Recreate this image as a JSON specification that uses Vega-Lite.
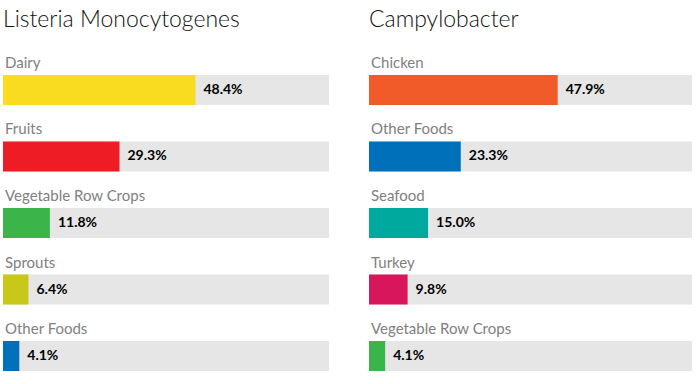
{
  "$schema": "https://vega.github.io/schema/vega-lite/v6.json",
  "padding": {"left": 3, "top": 8, "right": 0, "bottom": 0},
  "background": "white",
  "config": {
    "view": {"stroke": null},
    "concat": {"spacing": 40},
    "font": "Lato",
    "title": {"font": "Lato", "fontSize": 23, "fontWeight": 300, "color": "#111111", "anchor": "start", "frame": "group"}
  },
  "datasets": {
    "rows": [
      {"panel": "Listeria Monocytogenes", "category": "Dairy", "value": 48.4, "label": "48.4%", "color": "#F9DC1F"},
      {"panel": "Listeria Monocytogenes", "category": "Fruits", "value": 29.3, "label": "29.3%", "color": "#EE1C25"},
      {"panel": "Listeria Monocytogenes", "category": "Vegetable Row Crops", "value": 11.8, "label": "11.8%", "color": "#3BB54A"},
      {"panel": "Listeria Monocytogenes", "category": "Sprouts", "value": 6.4, "label": "6.4%", "color": "#C8C81A"},
      {"panel": "Listeria Monocytogenes", "category": "Other Foods", "value": 4.1, "label": "4.1%", "color": "#0070BA"},
      {"panel": "Campylobacter", "category": "Chicken", "value": 47.9, "label": "47.9%", "color": "#F15A29"},
      {"panel": "Campylobacter", "category": "Other Foods", "value": 23.3, "label": "23.3%", "color": "#0070BA"},
      {"panel": "Campylobacter", "category": "Seafood", "value": 15.0, "label": "15.0%", "color": "#00A99D"},
      {"panel": "Campylobacter", "category": "Turkey", "value": 9.8, "label": "9.8%", "color": "#D7165C"},
      {"panel": "Campylobacter", "category": "Vegetable Row Crops", "value": 4.1, "label": "4.1%", "color": "#3BB54A"}
    ]
  },
  "hconcat": [
    {
      "title": {"text": "Listeria Monocytogenes", "offset": 24},
      "width": 326,
      "height": 296,
      "data": {"name": "rows"},
      "transform": [{"filter": "datum.panel === 'Listeria Monocytogenes'"}],
      "encoding": {
        "y": {"field": "category", "type": "nominal", "sort": null, "axis": null,
              "scale": {"paddingInner": 0.549, "paddingOuter": 0}}
      },
      "layer": [
        {"mark": {"type": "bar", "color": "#E6E6E6"},
         "encoding": {"x": {"datum": 82, "type": "quantitative", "axis": null, "scale": {"domain": [0, 82], "nice": false}}}},
        {"mark": {"type": "bar"},
         "encoding": {"x": {"field": "value", "type": "quantitative", "axis": null, "scale": {"domain": [0, 82], "nice": false}},
                      "color": {"field": "color", "type": "nominal", "scale": null}}},
        {"mark": {"type": "text", "align": "left", "baseline": "alphabetic", "dx": 2, "dy": -22, "fontSize": 15, "color": "#808080"},
         "encoding": {"x": {"datum": 0, "type": "quantitative", "scale": {"domain": [0, 82], "nice": false}}, "text": {"field": "category"}}},
        {"mark": {"type": "text", "align": "left", "baseline": "middle", "dx": 8, "fontSize": 14, "fontWeight": "bold", "color": "#000000"},
         "encoding": {"x": {"field": "value", "type": "quantitative", "scale": {"domain": [0, 82], "nice": false}}, "text": {"field": "label"}}}
      ]
    },
    {
      "title": {"text": "Campylobacter", "offset": 24},
      "width": 323,
      "height": 296,
      "data": {"name": "rows"},
      "transform": [{"filter": "datum.panel === 'Campylobacter'"}],
      "encoding": {
        "y": {"field": "category", "type": "nominal", "sort": null, "axis": null,
              "scale": {"paddingInner": 0.549, "paddingOuter": 0}}
      },
      "layer": [
        {"mark": {"type": "bar", "color": "#E6E6E6"},
         "encoding": {"x": {"datum": 82, "type": "quantitative", "axis": null, "scale": {"domain": [0, 82], "nice": false}}}},
        {"mark": {"type": "bar"},
         "encoding": {"x": {"field": "value", "type": "quantitative", "axis": null, "scale": {"domain": [0, 82], "nice": false}},
                      "color": {"field": "color", "type": "nominal", "scale": null}}},
        {"mark": {"type": "text", "align": "left", "baseline": "alphabetic", "dx": 2, "dy": -22, "fontSize": 15, "color": "#808080"},
         "encoding": {"x": {"datum": 0, "type": "quantitative", "scale": {"domain": [0, 82], "nice": false}}, "text": {"field": "category"}}},
        {"mark": {"type": "text", "align": "left", "baseline": "middle", "dx": 8, "fontSize": 14, "fontWeight": "bold", "color": "#000000"},
         "encoding": {"x": {"field": "value", "type": "quantitative", "scale": {"domain": [0, 82], "nice": false}}, "text": {"field": "label"}}}
      ]
    }
  ],
  "resolve": {"scale": {"y": "independent"}}
}
